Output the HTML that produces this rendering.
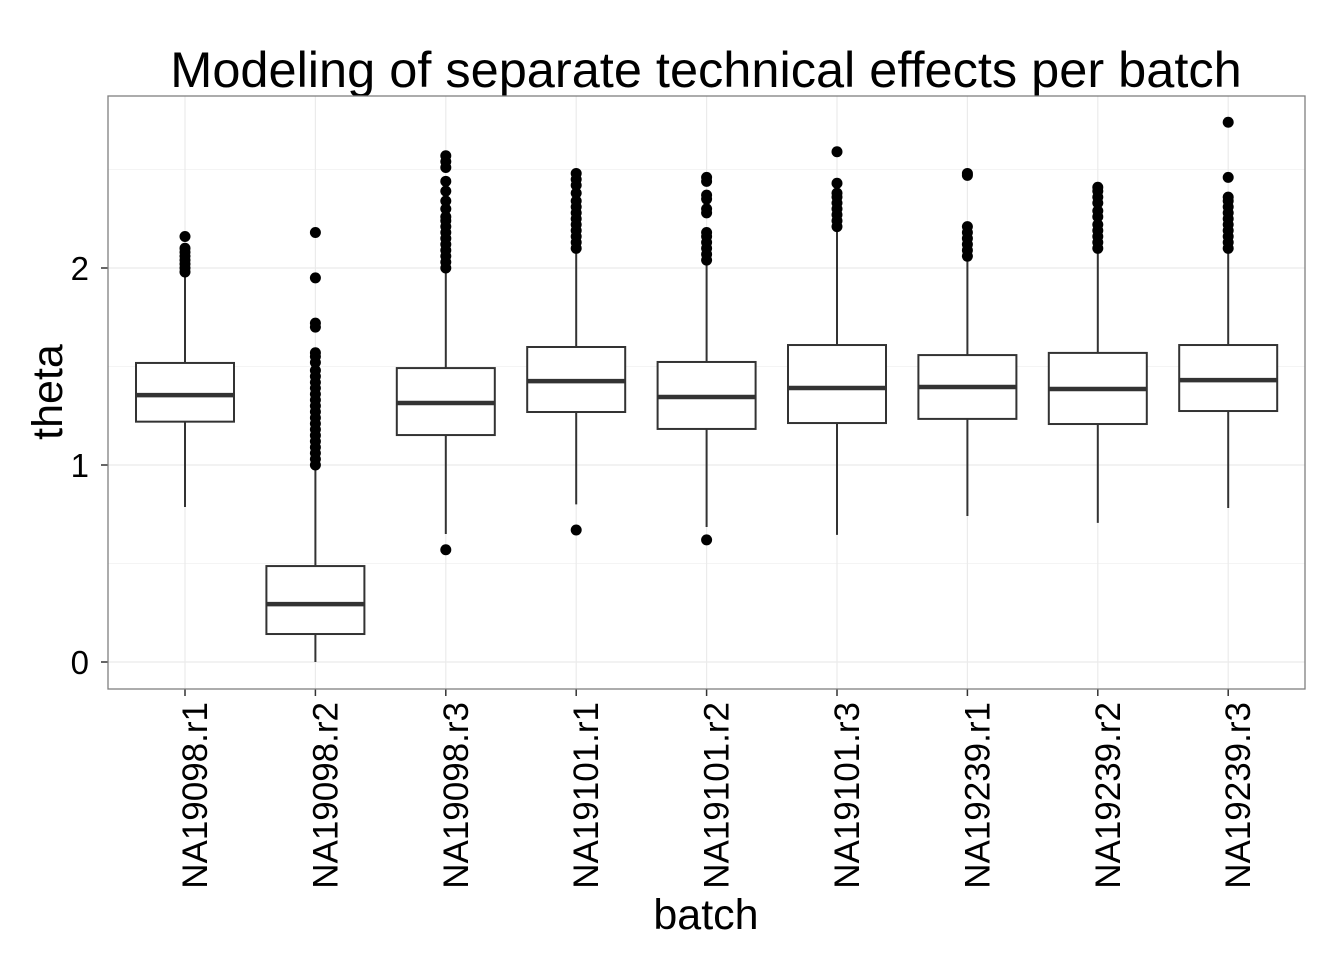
<!DOCTYPE html>
<html><head><meta charset="utf-8"><style>
html,body{margin:0;padding:0;background:#fff;}
svg{display:block;font-family:"Liberation Sans",Arial,sans-serif;}
</style></head><body>
<svg id="chart" width="1344" height="960" viewBox="0 0 1344 960" xmlns="http://www.w3.org/2000/svg">
<text x="706" y="87" font-size="50.5" text-anchor="middle" fill="#000">Modeling of separate technical effects per batch</text>
<text transform="translate(62,392) rotate(-90)" font-size="43" text-anchor="middle" fill="#000">theta</text>
<text x="706" y="929" font-size="43" text-anchor="middle" fill="#000">batch</text>
<g id="grid"></g><g id="boxes"></g><g id="axes"></g>
</svg>
<script>
const categories=["NA19098.r1","NA19098.r2","NA19098.r3","NA19101.r1","NA19101.r2","NA19101.r3","NA19239.r1","NA19239.r2","NA19239.r3"];
const q1=[1.22,0.142,1.152,1.269,1.183,1.213,1.234,1.208,1.274];
const medians=[1.355,0.294,1.315,1.426,1.345,1.391,1.396,1.386,1.431];
const q3=[1.518,0.487,1.492,1.599,1.523,1.609,1.558,1.569,1.609];
const whiskLow=[0.787,0.0,0.65,0.80,0.685,0.645,0.741,0.706,0.782];
const whiskHigh=[1.97,1.0,1.99,2.09,2.03,2.19,2.04,2.09,2.10];
const outliers=[
[1.98,2.0,2.02,2.04,2.06,2.08,2.10,2.16],
[1.0,1.03,1.06,1.09,1.12,1.15,1.18,1.21,1.24,1.27,1.30,1.33,1.36,1.39,1.42,1.45,1.48,1.52,1.55,1.57,1.70,1.72,1.95,2.18],
[0.57,2.0,2.03,2.06,2.09,2.12,2.15,2.18,2.21,2.24,2.26,2.30,2.34,2.39,2.44,2.51,2.54,2.57],
[0.67,2.10,2.13,2.16,2.19,2.22,2.25,2.28,2.31,2.34,2.38,2.42,2.45,2.48],
[0.62,2.04,2.07,2.10,2.13,2.16,2.18,2.28,2.30,2.35,2.37,2.44,2.46],
[2.21,2.24,2.27,2.30,2.33,2.36,2.38,2.43,2.59],
[2.06,2.09,2.12,2.15,2.18,2.21,2.47,2.48],
[2.10,2.13,2.16,2.19,2.22,2.26,2.29,2.33,2.36,2.39,2.41],
[2.10,2.13,2.16,2.19,2.22,2.25,2.28,2.31,2.34,2.36,2.46,2.74]
];
const yTicks=[0,1,2];
const yMinor=[0.5,1.5,2.5];
const NS="http://www.w3.org/2000/svg";
const L=108,R=1305,T=96,B=689;
function ys(v){return 662-v*197;}
function xs(i){return 185+i*130.4;}
function mk(tag,attrs,parent){const e=document.createElementNS(NS,tag);for(const k in attrs)e.setAttribute(k,attrs[k]);parent.appendChild(e);return e;}
const grid=document.getElementById('grid'),boxes=document.getElementById('boxes'),axes=document.getElementById('axes');
const bg=mk('rect',{x:L,y:T,width:R-L,height:B-T,fill:'#fff'},grid);


yMinor.forEach(v=>{const l=mk('line',{x1:L,x2:R,y1:ys(v),y2:ys(v),stroke:'#f4f4f4','stroke-width':1},grid);

});
yTicks.forEach(v=>{const l=mk('line',{x1:L,x2:R,y1:ys(v),y2:ys(v),stroke:'#ebebeb','stroke-width':1.2},grid);


const t=mk('line',{x1:101,x2:108,y1:ys(v),y2:ys(v),stroke:'#333','stroke-width':1.5},axes);


const tx=mk('text',{x:89,y:ys(v)+12,'font-size':33,'text-anchor':'end',fill:'#000'},axes);tx.textContent=v;

});
categories.forEach((c,i)=>{const x=xs(i);
const g=mk('line',{x1:x,x2:x,y1:T,y2:B,stroke:'#ebebeb','stroke-width':1.2},grid);


const grp=mk('g',{},boxes);


const w=mk('line',{x1:x,x2:x,y1:ys(whiskHigh[i]),y2:ys(whiskLow[i]),stroke:'#333','stroke-width':2},grp);


const r=mk('rect',{x:x-49,y:ys(q3[i]),width:98,height:ys(q1[i])-ys(q3[i]),fill:'#fff',stroke:'#333','stroke-width':2},grp);


const m=mk('line',{x1:x-49,x2:x+49,y1:ys(medians[i]),y2:ys(medians[i]),stroke:'#333','stroke-width':4.5},grp);


outliers[i].forEach(v=>{const p=mk('circle',{cx:x,cy:ys(v),r:5.5,fill:'#000'},grp);

});
const t=mk('line',{x1:x,x2:x,y1:689,y2:696,stroke:'#333','stroke-width':1.5},axes);


const tx=mk('text',{transform:`translate(${x+22},702) rotate(-90)`,'font-size':35,'text-anchor':'end',fill:'#000'},axes);tx.textContent=c;

});
const border=mk('rect',{x:L,y:T,width:R-L,height:B-T,fill:'none',stroke:'#7f7f7f','stroke-width':1.3},axes);


</script>
</body></html>
